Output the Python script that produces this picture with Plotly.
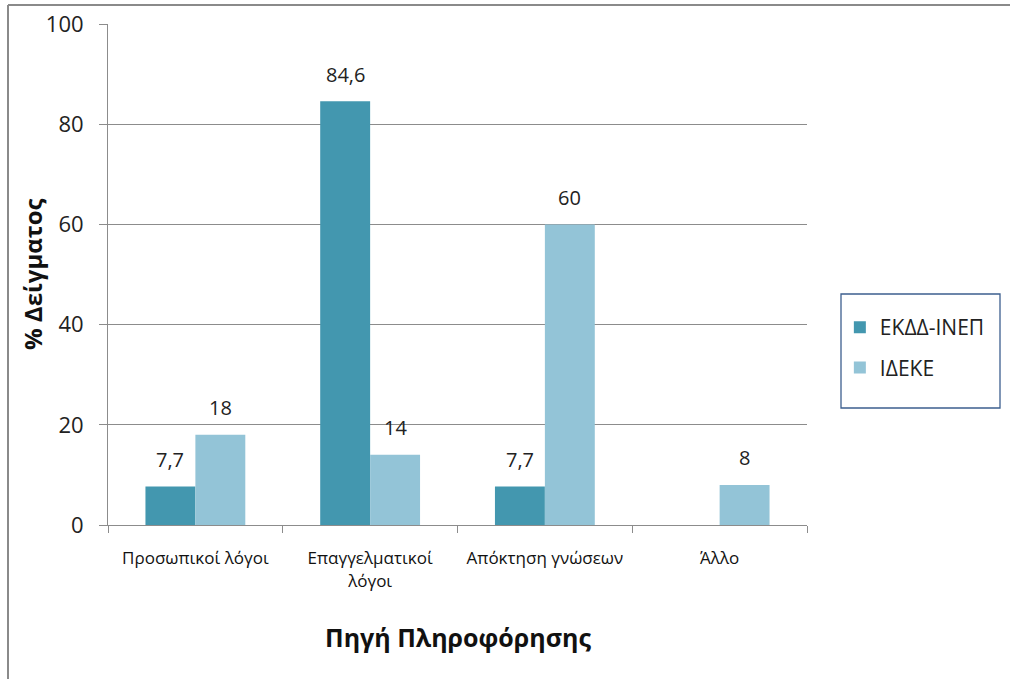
import plotly.graph_objects as go

categories = ["Προσωπικοί λόγοι", "Επαγγελματικοί<br>λόγοι", "Απόκτηση γνώσεων", "Άλλο"]
series_names = ["ΕΚΔΔ-ΙΝΕΠ", "ΙΔΕΚΕ"]
ekdd_values = [7.7, 84.6, 7.7, 0]
ideke_values = [18, 14, 60, 8]
y_ticks = [0, 20, 40, 60, 80, 100]

colors = ["#4397AF", "#93C4D7"]
series_values = [ekdd_values, ideke_values]

BAR_PX = 50  # width of one bar in pixels (175 px per category)
L, R, T, B = 108, 203, 24, 154
PW, PH = 1010 - L - R, 679 - T - B


def px_x(px):
    return (px - L) / PW


def px_y(py):
    return (679 - B - py) / PH


def label(v):
    return f"{v:g}".replace(".", ",") if v else ""


fig = go.Figure()
for name, vals, col in zip(series_names, series_values, colors):
    fig.add_trace(go.Bar(
        x=categories, y=vals, name=name,
        marker=dict(color=col, line=dict(width=0)),
        legendgroup=name,
    ))

# value labels sitting above each bar
annotations = []
for i, vals in enumerate(series_values):
    for cat, v in zip(categories, vals):
        if not v:
            continue
        annotations.append(dict(
            x=cat, y=v, xref="x", yref="y",
            text=label(v), showarrow=False,
            xshift=(i - 0.5) * BAR_PX, yshift=27, yanchor="middle",
            font=dict(family="Open Sans, Noto Sans, sans-serif", size=20, color="#222"),
        ))

# axis titles
annotations.append(dict(
    x=px_x(458), y=px_y(637), xref="paper", yref="paper",
    text="<b>Πηγή Πληροφόρησης</b>", showarrow=False,
    xanchor="center", yanchor="middle",
    font=dict(family="Open Sans, Noto Sans, sans-serif", size=25, color="#111"),
))
annotations.append(dict(
    x=px_x(32), y=px_y(274), xref="paper", yref="paper",
    text="<b>% Δείγματος</b>", showarrow=False, textangle=-90,
    xanchor="center", yanchor="middle",
    font=dict(family="Open Sans, Noto Sans, sans-serif", size=24, color="#111"),
))

grid = "#8C8C8C"
fig.update_layout(
    width=1010, height=679,
    margin=dict(l=L, r=R, t=T, b=B),
    paper_bgcolor="white", plot_bgcolor="white",
    barmode="group", bargap=0.4286, bargroupgap=0,
    showlegend=True,
    annotations=annotations,
    legend=dict(
        x=1.047, y=0.435, xanchor="left", yanchor="top",
        font=dict(family="Open Sans, Noto Sans, sans-serif", size=21, color="#222"),
        traceorder="grouped", tracegroupgap=10,
        bgcolor="rgba(0,0,0,0)", borderwidth=0,
    ),
    xaxis=dict(
        automargin=False,
        showline=True, linecolor=grid, linewidth=1,
        ticks="outside", tickson="boundaries", ticklen=7, tickcolor=grid,
        tickfont=dict(family="Open Sans, Noto Sans, sans-serif", size=17, color="#111"),
        ticklabelstandoff=18,
    ),
    yaxis=dict(
        automargin=False,
        range=[0, 100], tickvals=y_ticks,
        showline=True, linecolor=grid, linewidth=1,
        showgrid=True, gridcolor=grid, gridwidth=1,
        ticks="outside", ticklen=8, tickcolor=grid,
        tickfont=dict(family="Open Sans, Noto Sans, sans-serif", size=22, color="#222"),
        ticklabelstandoff=11,
        zeroline=False,
    ),
    shapes=[
        # legend frame
        dict(type="rect", xref="paper", yref="paper",
             x0=px_x(841), x1=px_x(1000), y0=px_y(408), y1=px_y(294),
             line=dict(color="#3D5F8F", width=1.3), fillcolor="rgba(0,0,0,0)"),
        # outer chart frame (top and left edges)
        dict(type="line", xref="paper", yref="paper",
             x0=px_x(8), x1=px_x(1012), y0=px_y(5), y1=px_y(5),
             line=dict(color="#8A8A8A", width=2)),
        dict(type="line", xref="paper", yref="paper",
             x0=px_x(8), x1=px_x(8), y0=px_y(5), y1=px_y(682),
             line=dict(color="#8A8A8A", width=2)),
    ],
)

fig.write_html("out.html")
